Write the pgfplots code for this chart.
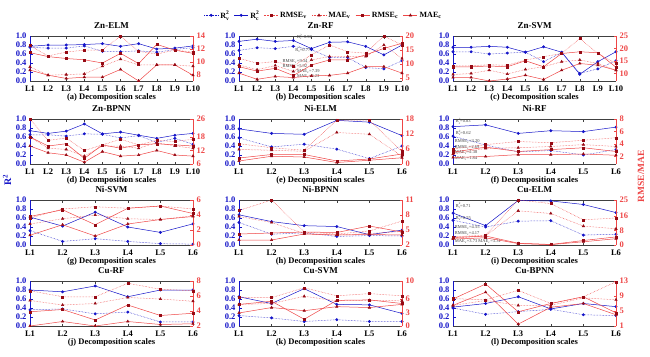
\documentclass[border=0pt]{standalone}
\usepackage{fontspec}
\setmainfont{Liberation Serif}
\usepackage{pgfplots}
\usepackage{pgfplotstable}
\pgfplotsset{compat=1.18}
\definecolor{bl}{RGB}{20,20,200}
\definecolor{rl}{RGB}{238,70,70}
\definecolor{rm}{RGB}{150,10,20}
\newcommand{\Rs}[1]{R\rlap{\raisebox{4.3pt}{\fontsize{5.5}{6}\selectfont 2}}\raisebox{-2.2pt}{\fontsize{5.5}{6}\selectfont #1}}
\newcommand{\Rv}{\Rs{v}}
\newcommand{\Rc}{\Rs{c}}
\newcommand{\Rsm}[1]{R\rlap{\raisebox{2.6pt}{\fontsize{3.2}{3.5}\selectfont 2}}\raisebox{-1.2pt}{\fontsize{3.2}{3.5}\selectfont #1}}
\tikzset{ann/.style={anchor=west, font=\fontsize{4.5}{5}\selectfont, black!75, inner sep=0pt}}

\pgfplotstableread{
x R2v R2c RMSEv MAEv RMSEc MAEc
1 0.75 0.77 12.5 9.2 11.4 8.7
2 0.73 0.80 10.9 7.9 10.8 7.9
3 0.73 0.80 11.5 8.0 10.5 7.4
4 0.78 0.81 11.8 8.1 10.3 7.6
5 0.66 0.83 11.8 9.3 9.8 7.6
6 0.65 0.77 14.0 10.4 11.3 8.8
7 0.67 0.83 11.6 9.5 9.7 7.0
8 0.64 0.71 11.2 9.5 12.7 9.5
9 0.70 0.73 11.8 9.5 11.8 9.5
10 0.74 0.78 11.5 9.3 11.3 7.9
}\tA
\pgfplotstableread{
x R2v R2c RMSEv MAEv RMSEc MAEc
1 0.68 0.88 12.1 9.7 9.1 6.8
2 0.74 0.93 10.3 8.0 7.5 4.6
3 0.72 0.88 10.9 9.5 8.5 5.6
4 0.77 0.90 9.34 7.39 5.92 5.23
5 0.70 0.72 13.3 11.5 9.7 5.8
6 0.52 0.86 16.8 12.7 11.5 6.0
7 0.52 0.87 14.4 12.7 11.5 6.8
8 0.30 0.77 13.9 12.7 13.3 9.1
9 0.27 0.58 20.0 16.8 15.6 9.1
10 0.45 0.80 16.8 12.0 17.4 6.8
}\tB
\pgfplotstableread{
x R2v R2c RMSEv MAEv RMSEc MAEc
1 0.65 0.75 13.1 9.6 12.7 8.4
2 0.65 0.75 13.1 10.0 12.7 8.4
3 0.60 0.77 13.5 11.3 13.0 7.0
4 0.62 0.75 13.3 9.8 12.7 7.8
5 0.64 0.64 15.4 11.6 15.1 9.3
6 0.43 0.76 16.7 12.7 12.7 7.6
7 0.63 0.64 18.0 14.7 18.0 11.3
8 0.17 0.15 24.0 15.4 18.7 14.0
9 0.27 0.43 18.0 14.0 18.3 13.3
10 0.45 0.65 14.0 11.3 12.5 11.3
}\tC
\pgfplotstableread{
x R2v R2c RMSEv MAEv RMSEc MAEc
1 0.65 0.74 26.0 18.0 18.0 14.0
2 0.65 0.68 16.5 13.0 14.0 11.0
3 0.62 0.73 17.5 12.5 15.0 10.0
4 0.67 0.89 12.0 9.5 8.5 6.8
5 0.66 0.67 14.5 14.0 14.5 11.5
6 0.58 0.71 17.0 14.0 13.0 9.5
7 0.63 0.64 14.5 13.0 14.5 10.0
8 0.48 0.57 16.5 15.5 15.0 12.0
9 0.57 0.64 16.0 14.0 14.5 10.0
10 0.44 0.68 17.0 13.0 14.0 9.5
}\tD
\pgfplotstableread{
x R2v R2c RMSEv MAEv RMSEc MAEc
1 0.58 0.78 8.1 5.8 2.4 1.2
2 0.38 0.68 6.5 5.5 3.8 3.1
3 0.44 0.66 5.5 5.1 3.8 2.8
4 0.33 0.97 17.6 12.6 1.2 0.6
5 0.12 0.93 17.5 11.9 2.0 1.5
6 0.40 0.63 5.0 3.1 4.0 2.5
}\tE
\pgfplotstableread{
x R2v R2c RMSEv MAEv RMSEc MAEc
1 0.62 0.83 3.20 2.38 2.69 1.84
2 0.42 0.87 3.9 3.3 3.5 2.0
3 0.27 0.68 4.4 3.4 2.8 2.3
4 0.30 0.74 4.2 3.6 3.1 2.3
5 0.20 0.72 4.6 3.9 3.4 2.4
6 0.32 0.82 5.0 3.6 2.8 2.2
}\tF
\pgfplotstableread{
x R2v R2c RMSEv MAEv RMSEc MAEc
1 0.32 0.62 3.6 2.8 3.8 1.3
2 0.08 0.42 4.8 3.5 4.7 2.7
3 0.14 0.73 5.1 4.0 2.7 1.2
4 0.08 0.40 4.9 3.5 4.9 2.8
5 0.03 0.28 5.2 3.4 5.2 3.4
6 0.02 0.47 4.8 3.9 4.2 3.8
}\tG
\pgfplotstableread{
x R2v R2c RMSEv MAEv RMSEc MAEc
1 0.50 0.67 8.9 7.7 4.2 3.0
2 0.24 0.52 11.0 6.5 4.4 3.0
3 0.27 0.43 4.6 4.3 4.6 4.2
4 0.19 0.41 4.2 4.0 4.5 4.0
5 0.21 0.23 4.8 4.3 5.8 4.1
6 0.20 0.33 6.8 4.7 4.6 4.0
}\tH
\pgfplotstableread{
x R2v R2c RMSEv MAEv RMSEc MAEc
1 0.55 0.71 4.55 3.73 4.17 3.31
2 0.40 0.43 5.5 5.0 5.0 4.0
3 0.53 0.99 25.0 19.0 1.0 0.8
4 0.54 0.98 23.0 17.5 0.3 0.2
5 0.22 0.90 14.0 10.5 2.5 1.8
6 0.24 0.72 15.0 9.0 4.5 3.5
}\tI
\pgfplotstableread{
x R2v R2c RMSEv MAEv RMSEc MAEc
1 0.36 0.80 6.7 5.4 3.9 2.0
2 0.38 0.76 5.9 4.8 4.2 2.6
3 0.27 0.89 5.9 5.0 2.8 2.0
4 0.31 0.65 7.7 5.8 4.8 2.6
5 0.09 0.80 6.9 5.6 3.4 2.2
6 0.09 0.80 6.7 5.3 3.7 2.3
}\tJ
\pgfplotstableread{
x R2v R2c RMSEv MAEv RMSEc MAEc
1 0.23 0.65 6.4 4.8 4.8 2.9
2 0.18 0.50 6.3 5.0 5.5 4.1
3 0.10 0.83 8.5 6.6 1.5 3.4
4 0.14 0.48 6.7 5.6 5.7 4.3
5 0.10 0.47 7.2 5.7 5.8 4.1
6 0.10 0.28 6.7 5.6 5.0 4.8
}\tK
\pgfplotstableread{
x R2v R2c RMSEv MAEv RMSEc MAEc
1 0.40 0.42 8.3 6.5 8.2 6.5
2 0.26 0.50 8.0 7.8 12.2 10.0
3 0.32 0.65 10.5 6.5 4.8 1.5
4 0.37 0.38 7.0 6.5 7.0 6.0
5 0.25 0.50 8.8 8.5 8.8 7.0
6 0.23 0.43 12.8 8.0 4.5 4.0
}\tL

\pgfplotsset{
  base/.style={scale only axis, width=163pt, height=45pt, xmin=1, clip=false,
    tick align=inside, major tick length=2.5pt,
    /pgf/number format/assume math mode=true,
    tick label style={font=\bfseries\fontsize{8.5}{9}\selectfont},
    every tick/.style={line width=0.4pt}},
  r2v/.style={bl, densely dotted, line width=0.5pt, mark=*, mark size=1.2pt, mark options={solid, fill=bl}},
  r2c/.style={bl, solid, line width=0.5pt, mark=*, mark size=1.2pt, mark options={solid, fill=bl}},
  rmv/.style={rl, densely dotted, line width=0.5pt, mark=square*, mark size=1.0pt, mark options={solid, draw=rm, fill=rm}},
  mav/.style={rl, densely dotted, line width=0.5pt, mark=triangle*, mark size=1.4pt, mark options={solid, draw=rm, fill=rm}},
  rmc/.style={rl, solid, line width=0.5pt, mark=square*, mark size=1.0pt, mark options={solid, draw=rm, fill=rm}},
  mac/.style={rl, solid, line width=0.5pt, mark=triangle*, mark size=1.4pt, mark options={solid, draw=rm, fill=rm}},
}
\def\extra{}
\newcommand{\panel}[9]{%
\begin{axis}[base, at={(#1pt,-#2pt)}, xmax=#6, ymin=0, ymax=1,
  xtick={1,...,#6}, xticklabel={L\pgfmathprintnumber{\tick}},
  xticklabel style={yshift=-1pt},
  axis x line*=box, axis y line*=left,
  x axis line style={black!75}, y axis line style={bl},
  xtick style={black!75}, ytick style={bl},
  ytick={0,0.2,0.4,0.6,0.8,1.0},
  yticklabel style={bl, /pgf/number format/.cd, fixed, fixed zerofill, precision=1},
  title={#3}, title style={font=\bfseries\fontsize{9}{10}\selectfont, at={(0.5,1)}, anchor=south, inner sep=1.5pt},
  xlabel={#4}, xlabel style={font=\bfseries\fontsize{8.5}{9}\selectfont, inner sep=1pt, yshift=2.5pt}]
\addplot[r2v] table[x=x,y=R2v] {#5};
\addplot[r2c] table[x=x,y=R2c] {#5};
\extra
\end{axis}
\begin{axis}[base, at={(#1pt,-#2pt)}, xmax=#6, ymin=#7, ymax=#8,
  axis y line*=right, axis x line=none,
  y axis line style={rl}, ytick style={rl}, ytick={#9},
  yticklabel style={rl}]
\addplot[rmv] table[x=x,y=RMSEv] {#5};
\addplot[mav] table[x=x,y=MAEv] {#5};
\addplot[rmc] table[x=x,y=RMSEc] {#5};
\addplot[mac] table[x=x,y=MAEc] {#5};
\end{axis}
}

\begin{document}
\begin{tikzpicture}
\path[use as bounding box] (0,0) rectangle (650pt,-356pt);
% legend
\begin{axis}[at={(0pt,-356pt)}, scale only axis, width=650pt, height=356pt, hide axis,
  xmin=0, xmax=1, ymin=0, ymax=1,
  legend columns=6,
  legend image code/.code={\draw[mark repeat=2,mark phase=2,#1] plot coordinates {(0pt,0pt) (7pt,0pt) (14pt,0pt)};},
  legend style={draw=none, fill=none, at={(0.498,0.957)}, anchor=center,
    font=\bfseries\fontsize{8}{9}\selectfont, inner xsep=1pt,
    /tikz/every even column/.append style={column sep=3pt}}]
\addlegendimage{r2v}\addlegendentry{\Rv}
\addlegendimage{r2c}\addlegendentry{\Rc}
\addlegendimage{rmv}\addlegendentry{RMSE\textsubscript{v}}
\addlegendimage{mav}\addlegendentry{MAE\textsubscript{v}}
\addlegendimage{rmc}\addlegendentry{RMSE\textsubscript{c}}
\addlegendimage{mac}\addlegendentry{MAE\textsubscript{c}}
\end{axis}

\panel{30}{81}{Zn-ELM}{(a) Decomposition scales}{\tA}{10}{7}{14}{8,10,12,14}
\def\extra{%
 \node[ann] at (axis cs:4.2,0.98) {\Rsm{c}=0.90};
 \node[ann] at (axis cs:4.1,0.70) {\Rsm{v}=0.77};
 \node[ann] at (axis cs:3.4,0.44) {RMSE\textsubscript{v}=9.34};
 \node[ann] at (axis cs:3.4,0.32) {RMSE\textsubscript{c}=5.92};
 \node[ann] at (axis cs:4.2,0.21) {MAE\textsubscript{v}=7.39};
 \node[ann] at (axis cs:4.2,0.10) {MAE\textsubscript{c}=5.23};}
\panel{239}{81}{Zn-RF}{(b) Decomposition scales}{\tB}{10}{4}{20}{5,10,15,20}
\def\extra{}
\panel{453}{81}{Zn-SVM}{(c) Decomposition scales}{\tC}{10}{7}{25}{10,15,20,25}

\panel{30}{164}{Zn-BPNN}{(d) Decomposition scales}{\tD}{10}{6}{26}{6,12,18,26}
\panel{239}{164}{Ni-ELM}{(e) Decomposition scales}{\tE}{6}{0}{18}{0,6,12,18}
\def\extra{%
 \node[ann] at (axis cs:1.08,0.95) {\Rsm{c}=0.83};
 \node[ann] at (axis cs:1.08,0.69) {\Rsm{v}=0.62};
 \node[ann] at (axis cs:1.05,0.49) {RMSE\textsubscript{v}=3.20};
 \node[ann] at (axis cs:1.05,0.37) {RMSE\textsubscript{c}=2.69};
 \node[ann] at (axis cs:1.05,0.25) {MAE\textsubscript{v}=2.38};
 \node[ann] at (axis cs:1.05,0.13) {MAE\textsubscript{c}=1.84};}
\panel{453}{164}{Ni-RF}{(f) Decomposition scales}{\tF}{6}{0.8}{8}{2,4,6,8}
\def\extra{}

\panel{30}{245}{Ni-SVM}{(g) Decomposition scales}{\tG}{6}{0}{6}{0,2,4,6}
\panel{239}{245}{Ni-BPNN}{(h) Decomposition scales}{\tH}{6}{2}{11}{2,5,8,11}
\def\extra{%
 \node[ann] at (axis cs:1.08,0.87) {\Rsm{c}=0.71};
 \node[ann] at (axis cs:1.08,0.60) {\Rsm{v}=0.55};
 \node[ann] at (axis cs:1.05,0.38) {RMSE\textsubscript{v}=4.55};
 \node[ann] at (axis cs:1.05,0.25) {RMSE\textsubscript{c}=4.17};
 \node[ann] at (axis cs:1.05,0.07) {MAE\textsubscript{v}=3.73\ MAE\textsubscript{c}=3.31};}
\panel{453}{245}{Cu-ELM}{(i) Decomposition scales}{\tI}{6}{0}{25}{0,8,16,25}
\def\extra{}

\panel{30}{326}{Cu-RF}{(j) Decomposition scales}{\tJ}{6}{2}{8}{2,4,6,8}
\panel{239}{326}{Cu-SVM}{(k) Decomposition scales}{\tK}{6}{0}{10}{0,3,6,10}
\panel{453}{326}{Cu-BPNN}{(l) Decomposition scales}{\tL}{6}{1}{13}{1,5,9,13}

\node[rotate=90, bl, font=\bfseries\fontsize{10}{12}\selectfont] at (7pt,-180pt) {R\textsuperscript{2}};
\node[rotate=90, rl, font=\bfseries\fontsize{9.5}{11}\selectfont] at (641pt,-176pt) {RMSE/MAE};
\end{tikzpicture}
\end{document}
